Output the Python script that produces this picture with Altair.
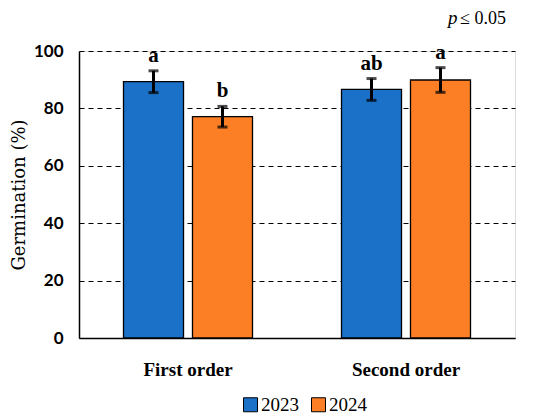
import altair as alt
import pandas as pd

groups = ["First order", "First order", "Second order", "Second order"]
years = ["2023", "2024", "2023", "2024"]
means = [89.3, 77.1, 86.6, 89.9]
errs = [3.8, 3.6, 3.8, 4.3]
letters = ["a", "b", "ab", "a"]
colors = ["#1b70c8", "#fc7f26"]

df = pd.DataFrame({"group": groups, "year": years, "mean": means, "err": errs, "letter": letters})
df["lo"] = df["mean"] - df["err"]
df["hi"] = df["mean"] + df["err"]

SERIF = "Liberation Serif"
SANS = "Lato"

x = alt.X("group:N", title=None, sort=["First order", "Second order"],
          scale=alt.Scale(paddingInner=0, paddingOuter=0),
          axis=alt.Axis(labelAngle=0, ticks=False, domain=True, domainColor="black", domainWidth=1.5,
                        labelFont=SERIF, labelFontSize=19, labelFontWeight="bold", labelColor="black",
                        labelPadding=22))
xo = alt.XOffset("year:N", scale=alt.Scale(paddingInner=0.13, paddingOuter=0.645))
yscale = alt.Scale(domain=[0, 100])
yaxis = alt.Axis(values=[0, 20, 40, 60, 80, 100], ticks=False, domain=True, domainColor="black",
                 domainWidth=1.5, grid=True, gridColor="black", gridDash=[5, 4], gridWidth=1,
                 labelFont=SANS, labelFontSize=17, labelFontWeight="bold", labelColor="black",
                 labelPadding=16, titleFont="DejaVu Serif", titleFontSize=18, titleFontWeight="normal",
                 titleColor="black", titlePadding=5)
YT = "Germination (%)"


def yenc(field):
    return alt.Y(field, scale=yscale, title=YT, axis=yaxis)


base = alt.Chart(df)

bars = base.mark_bar(stroke="black", strokeWidth=1.3).encode(
    x=x, xOffset=xo, y=yenc("mean:Q"),
    color=alt.Color("year:N", scale=alt.Scale(domain=["2023", "2024"], range=colors),
                    legend=alt.Legend(title=None, orient="none", legendX=162, legendY=344, direction="horizontal",
                                      symbolType="square", symbolSize=196, symbolStrokeColor="black",
                                      symbolStrokeWidth=1, symbolOpacity=1, labelFont=SERIF, labelFontSize=19,
                                      labelColor="black", labelOffset=1, columnPadding=10)),
)

rules = base.mark_rule(color="black", strokeWidth=3).encode(
    x=x, xOffset=xo, y=yenc("lo:Q"), y2="hi:Q")
cap_hi = base.mark_tick(color="black", size=10, thickness=3).encode(
    x=x, xOffset=xo, y=yenc("hi:Q"))
cap_lo = base.mark_tick(color="black", size=10, thickness=3).encode(
    x=x, xOffset=xo, y=yenc("lo:Q"))
labels = base.mark_text(font=SERIF, fontSize=21, fontWeight="bold", color="black", baseline="bottom", dy=-5).encode(
    x=x, xOffset=xo, y=yenc("hi:Q"), text="letter:N")

ann = alt.Data(values=[{"t": 1}])
p_txt = alt.Chart(ann).mark_text(text="p", font=SERIF, fontSize=19, fontStyle="italic", color="black",
                                 align="left", baseline="alphabetic").encode(x=alt.value(369), y=alt.value(-27))
p_txt2 = alt.Chart(ann).mark_text(text="≤ 0.05", font=SERIF, fontSize=18, color="black",
                                  align="left", baseline="alphabetic").encode(x=alt.value(381), y=alt.value(-27))

chart = alt.layer(bars, rules, cap_hi, cap_lo, labels, p_txt, p_txt2).properties(
    width=436, height=287,
    autosize=alt.AutoSizeParams(type="none"),
    padding={"left": 71, "top": 43, "right": 20, "bottom": 80},
).configure_view(stroke=None).configure(background="white")

chart.save("out.html", embed_options={"renderer": "svg", "actions": False})
